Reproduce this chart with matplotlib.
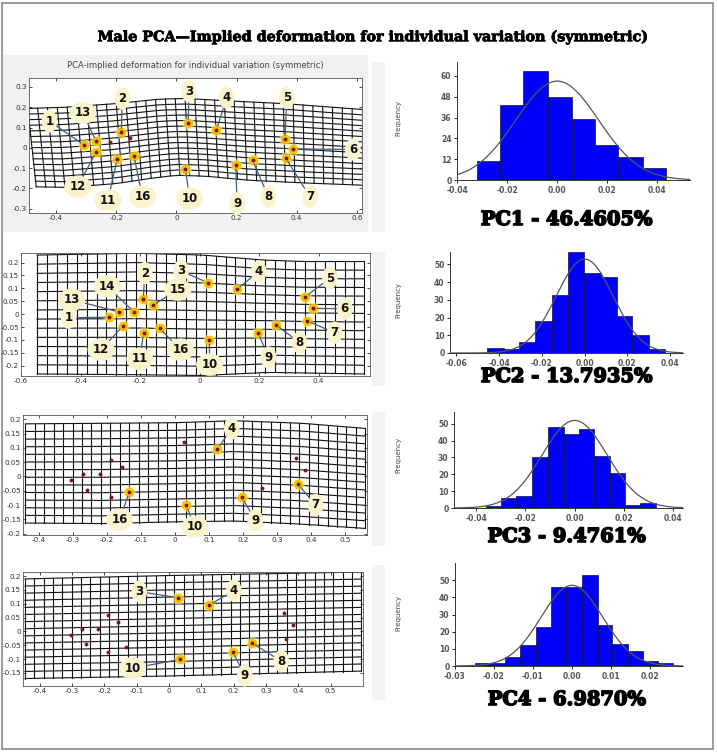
import numpy as np
import matplotlib
matplotlib.use("Agg")
import matplotlib.pyplot as plt
import matplotlib.patheffects as pe
from matplotlib.patches import Rectangle
from matplotlib.ticker import FuncFormatter

# ---- landmarks (numbered 1..16) ----
lm_p1_x = [-0.306, -0.183, 0.039, 0.133, 0.361, 0.389, 0.363, 0.253, 0.197, 0.030, -0.197, -0.267, -0.267, -0.222, -0.153, -0.141]
lm_p1_y = [0.013, 0.076, 0.120, 0.087, 0.043, -0.005, -0.049, -0.061, -0.085, -0.105, -0.057, -0.020, 0.033, 0.030, 0.046, -0.041]
lm_x = [-0.305, -0.189, 0.027, 0.125, 0.355, 0.383, 0.361, 0.256, 0.197, 0.033, -0.188, -0.258, -0.270, -0.220, -0.157, -0.134]
lm_y = [-0.012, 0.058, 0.122, 0.096, 0.066, 0.022, -0.026, -0.041, -0.073, -0.101, -0.073, -0.047, 0.008, 0.008, 0.034, -0.055]

# callouts: (landmark number, label x, label y)
p1_callouts = [(1, -0.422, 0.131), (2, -0.18, 0.243), (3, 0.042, 0.279), (4, 0.167, 0.248),
               (5, 0.367, 0.246), (6, 0.587, -0.008), (7, 0.444, -0.241), (8, 0.306, -0.241),
               (9, 0.202, -0.274), (10, 0.044, -0.25), (11, -0.228, -0.258), (12, -0.328, -0.192),
               (13, -0.311, 0.172), (16, -0.113, -0.241)]
p2_callouts = [(1, -0.44, -0.014), (2, -0.184, 0.159), (3, -0.062, 0.168), (4, 0.199, 0.165),
               (5, 0.438, 0.14), (6, 0.488, 0.021), (7, 0.454, -0.072), (8, 0.336, -0.11),
               (9, 0.232, -0.168), (10, 0.034, -0.196), (11, -0.201, -0.174), (12, -0.331, -0.138),
               (13, -0.429, 0.056), (14, -0.31, 0.108), (15, -0.073, 0.095), (16, -0.064, -0.138)]
p3_callouts = [(4, 0.167, 0.168), (7, 0.414, -0.1), (9, 0.236, -0.153), (10, 0.059, -0.177), (16, -0.163, -0.151)]
p4_callouts = [(3, -0.092, 0.144), (4, 0.2, 0.148), (8, 0.347, -0.107), (9, 0.234, -0.159), (10, -0.113, -0.133)]

# ---- deformation grid outlines ----
g1_top_x = [-0.494, -0.367, -0.2, -0.056, 0.033, 0.19, 0.356, 0.617]
g1_top_y = [0.194, 0.200, 0.218, 0.240, 0.243, 0.230, 0.218, 0.189]
g1_bot_x = [-0.466, -0.367, -0.2, -0.089, 0.0, 0.1, 0.244, 0.411, 0.617]
g1_bot_y = [-0.192, -0.195, -0.176, -0.151, -0.135, -0.140, -0.160, -0.172, -0.184]
g2_top_x = [-0.546, -0.212, 0.01, 0.21, 0.343, 0.554]
g2_top_y = [0.229, 0.236, 0.229, 0.210, 0.204, 0.204]
g2_bot_x = [-0.546, -0.212, 0.01, 0.232, 0.554]
g2_bot_y = [-0.232, -0.235, -0.238, -0.226, -0.232]
g3_top_x = [-0.44, -0.217, 0.0, 0.177, 0.374, 0.56]
g3_top_y = [0.184, 0.186, 0.188, 0.195, 0.186, 0.168]
g3_bot_x = [-0.44, -0.217, 0.0, 0.177, 0.374, 0.56]
g3_bot_y = [-0.163, -0.165, -0.159, -0.156, -0.167, -0.182]
g4_top_x = [-0.446, -0.01, 0.595]
g4_top_y = [0.190, 0.202, 0.215]
g4_bot_x = [-0.446, -0.01, 0.595]
g4_bot_y = [-0.170, -0.161, -0.143]

# ---- histograms ----
h1_edges = [-0.032, -0.0228, -0.0136, -0.0036, 0.006, 0.0152, 0.0244, 0.0344, 0.0436]
h1_counts = [11, 43, 63, 48, 35, 20, 13, 7]
h2_edges = [-0.0458, -0.0378, -0.0308, -0.0231, -0.0155, -0.008, -0.0002, 0.0075, 0.015, 0.0223, 0.0301, 0.0377]
h2_counts = [3, 2, 6, 18, 33, 57, 45, 43, 21, 10, 2]
h3_edges = [-0.0359, -0.0298, -0.0237, -0.0172, -0.0109, -0.0045, 0.0017, 0.0078, 0.0142, 0.0203, 0.0264, 0.0329]
h3_counts = [1, 6, 7, 30, 48, 44, 47, 31, 21, 2, 3]
h4_edges = [-0.0249, -0.021, -0.0172, -0.0133, -0.0093, -0.0054, -0.0014, 0.0026, 0.0066, 0.0104, 0.0144, 0.0183, 0.0221, 0.026]
h4_counts = [2, 2, 5, 12, 23, 46, 46, 53, 24, 13, 9, 3, 2]
# fitted normal curves: (mean, sd, peak)
fits = [(0.0, 0.0165, 57), (0.0, 0.0133, 53), (0.0, 0.0132, 52), (0.0, 0.0079, 47)]
pc_labels = ["PC1 - 46.4605%", "PC2 - 13.7935%", "PC3 - 9.4761%", "PC4 - 6.9870%"]

W, H = 717, 753
fig = plt.figure(figsize=(W / 100, H / 100), dpi=100)

def rect(x0, y0, x1, y1):
    return [x0 / W, 1 - y1 / H, (x1 - x0) / W, (y1 - y0) / H]

# outer frame + backgrounds
fig.patches.append(Rectangle((2 / W, 1 - 749 / H), 711 / W, 746 / H, transform=fig.transFigure,
                             fill=False, ec="#8a8a8a", lw=1.2, zorder=-1))
fig.patches.append(Rectangle((3 / W, 1 - 232 / H), 365 / W, 177 / H, transform=fig.transFigure,
                             fc="#f1f1f1", ec="none", zorder=-2))
for y0, y1 in [(62, 232), (252, 386), (412, 546), (565, 700)]:
    fig.patches.append(Rectangle((372 / W, 1 - y1 / H), 13 / W, (y1 - y0) / H,
                                 transform=fig.transFigure, fc="#f3f3f3", ec="none", zorder=-2))

fig.text(372 / W, 1 - 37 / H, "Male PCA\u2014Implied deformation for individual variation (symmetric)",
         ha="center", va="center", family="DejaVu Serif", weight="bold", fontsize=10.3,
         path_effects=[pe.withStroke(linewidth=0.6, foreground="black")])

fmt_g = FuncFormatter(lambda v, p: f"{v:g}" if abs(v) > 1e-9 else "0")


def draw_grid(ax, tx, ty, bx, by, ncol, nrow):
    t = np.linspace(0, 1, ncol + 1)
    xt = tx[0] + (tx[-1] - tx[0]) * t
    xb = bx[0] + (bx[-1] - bx[0]) * t
    yt = np.interp(xt, tx, ty)
    yb = np.interp(xb, bx, by)
    s = np.linspace(0, 1, nrow + 1)
    for i in range(ncol + 1):
        ax.plot([xt[i], xb[i]], [yt[i], yb[i]], color="#111", lw=0.8, zorder=1)
    for j in range(nrow + 1):
        xs = xt + (xb - xt) * s[j]
        ys = yt + (yb - yt) * s[j]
        ax.plot(xs, ys, color="#111", lw=0.8, zorder=1)


def draw_landmarks(ax, lx, ly, callouts):
    hl = {c[0] for c in callouts}
    for k in range(16):
        if (k + 1) in hl:
            ax.plot(lx[k], ly[k], "o", ms=9, mfc="#fff27a", mec="none", alpha=0.55, zorder=3)
            ax.plot(lx[k], ly[k], "o", ms=6.2, mfc="#f5c400", mec="#f0b800", mew=0.5, zorder=4)
        ax.plot(lx[k], ly[k], "o", ms=2.8, mfc="#7a1424", mec="none", zorder=5)
    for num, tx, ty in callouts:
        ax.annotate(str(num), xy=(lx[num - 1], ly[num - 1]), xytext=(tx, ty),
                    ha="center", va="center", fontsize=8.5, weight="bold", color="#111",
                    bbox=dict(boxstyle="ellipse,pad=0.12", fc="#fbf3cc", ec="none"),
                    arrowprops=dict(arrowstyle="-", color="#3e5f80", lw=0.9, shrinkA=0, shrinkB=3),
                    zorder=6)


def style_left(ax, xlim, ylim, xt, yt):
    ax.set_xlim(*xlim)
    ax.set_ylim(*ylim)
    ax.set_xticks(xt)
    ax.set_yticks(yt)
    ax.xaxis.set_major_formatter(fmt_g)
    ax.yaxis.set_major_formatter(fmt_g)
    ax.tick_params(direction="in", length=2, width=0.5, labelsize=5.2, labelcolor="#333",
                   top=True, right=True, pad=1.5)
    for s in ax.spines.values():
        s.set_color("#555")
        s.set_linewidth(0.6)


ax1 = fig.add_axes(rect(29, 78, 362, 213))
draw_grid(ax1, g1_top_x, g1_top_y, g1_bot_x, g1_bot_y, 34, 14)
draw_landmarks(ax1, lm_p1_x, lm_p1_y, p1_callouts)
style_left(ax1, (-0.49, 0.617), (-0.321, 0.344), np.arange(-0.4, 0.61, 0.2), np.arange(-0.3, 0.31, 0.1))
ax1.set_title("PCA-implied deformation for individual variation (symmetric)", fontsize=6, color="#444", pad=7)

ax2 = fig.add_axes(rect(21, 253, 370, 376))
draw_grid(ax2, g2_top_x, g2_top_y, g2_bot_x, g2_bot_y, 33, 13)
draw_landmarks(ax2, lm_x, lm_y, p2_callouts)
style_left(ax2, (-0.6, 0.573), (-0.24, 0.237), np.arange(-0.6, 0.41, 0.2), np.arange(-0.2, 0.21, 0.05))

ax3 = fig.add_axes(rect(23, 415, 367, 535))
draw_grid(ax3, g3_top_x, g3_top_y, g3_bot_x, g3_bot_y, 36, 13)
draw_landmarks(ax3, lm_x, lm_y, p3_callouts)
style_left(ax3, (-0.447, 0.565), (-0.205, 0.215), np.arange(-0.4, 0.51, 0.1), np.arange(-0.2, 0.21, 0.05))

ax4 = fig.add_axes(rect(23, 572, 363, 686))
draw_grid(ax4, g4_top_x, g4_top_y, g4_bot_x, g4_bot_y, 36, 14)
draw_landmarks(ax4, lm_x, lm_y, p4_callouts)
style_left(ax4, (-0.452, 0.6), (-0.197, 0.215), np.arange(-0.4, 0.51, 0.1), np.arange(-0.15, 0.21, 0.05))

# ---- histograms ----
hist_specs = [
    (h1_edges, h1_counts, rect(457, 62, 690, 180), (-0.04, 0.053), 68, np.arange(0, 61, 12),
     np.arange(-0.04, 0.041, 0.02), 220),
    (h2_edges, h2_counts, rect(450, 252, 683, 353), (-0.063, 0.046), 57, np.arange(0, 51, 10),
     np.arange(-0.06, 0.041, 0.02), 377),
    (h3_edges, h3_counts, rect(454, 412, 683, 508), (-0.049, 0.044), 57, np.arange(0, 51, 10),
     np.arange(-0.04, 0.041, 0.02), 537),
    (h4_edges, h4_counts, rect(455, 563, 683, 666), (-0.03, 0.0285), 60, np.arange(0, 51, 10),
     np.arange(-0.03, 0.021, 0.01), 700),
]
freq_y = [118, 300, 455, 613]

for i, (edges, counts, r, xl, ytop, yt, xt, lab_y) in enumerate(hist_specs):
    ax = fig.add_axes(r)
    edges = np.array(edges)
    ax.bar(edges[:-1], counts, width=np.diff(edges), align="edge", color="#0000ff",
           edgecolor="#10104a", lw=0.5, zorder=2)
    mu, sd, pk = fits[i]
    xx = np.linspace(xl[0], xl[1], 300)
    ax.plot(xx, pk * np.exp(-0.5 * ((xx - mu) / sd) ** 2), color="#555", lw=0.9, zorder=3)
    ax.set_xlim(*xl)
    ax.set_ylim(0, ytop)
    ax.set_yticks(yt)
    ax.set_xticks(xt)
    ax.xaxis.set_major_formatter(FuncFormatter(lambda v, p: ("%.2f" % v).replace("-0.00", "0.00")))
    ax.tick_params(direction="out", length=2.5, width=0.6, labelsize=5.5, labelcolor="#555", pad=1.5)
    for lbl in ax.get_xticklabels() + ax.get_yticklabels():
        lbl.set_fontweight("bold")
    for s in ["top", "right"]:
        ax.spines[s].set_visible(False)
    for s in ["left", "bottom"]:
        ax.spines[s].set_color("#333")
        ax.spines[s].set_linewidth(0.7)
    fig.text(398 / W, 1 - freq_y[i] / H, "Frequency", rotation=90, ha="center", va="center",
             fontsize=5, color="#444", family="Liberation Sans Narrow")
    fig.text(567 / W, 1 - lab_y / H, pc_labels[i], ha="center", va="center",
             family="DejaVu Serif", weight="bold", fontsize=14,
             path_effects=[pe.withStroke(linewidth=1.2, foreground="black")])

fig.savefig("out.png", dpi=100, facecolor="white")
